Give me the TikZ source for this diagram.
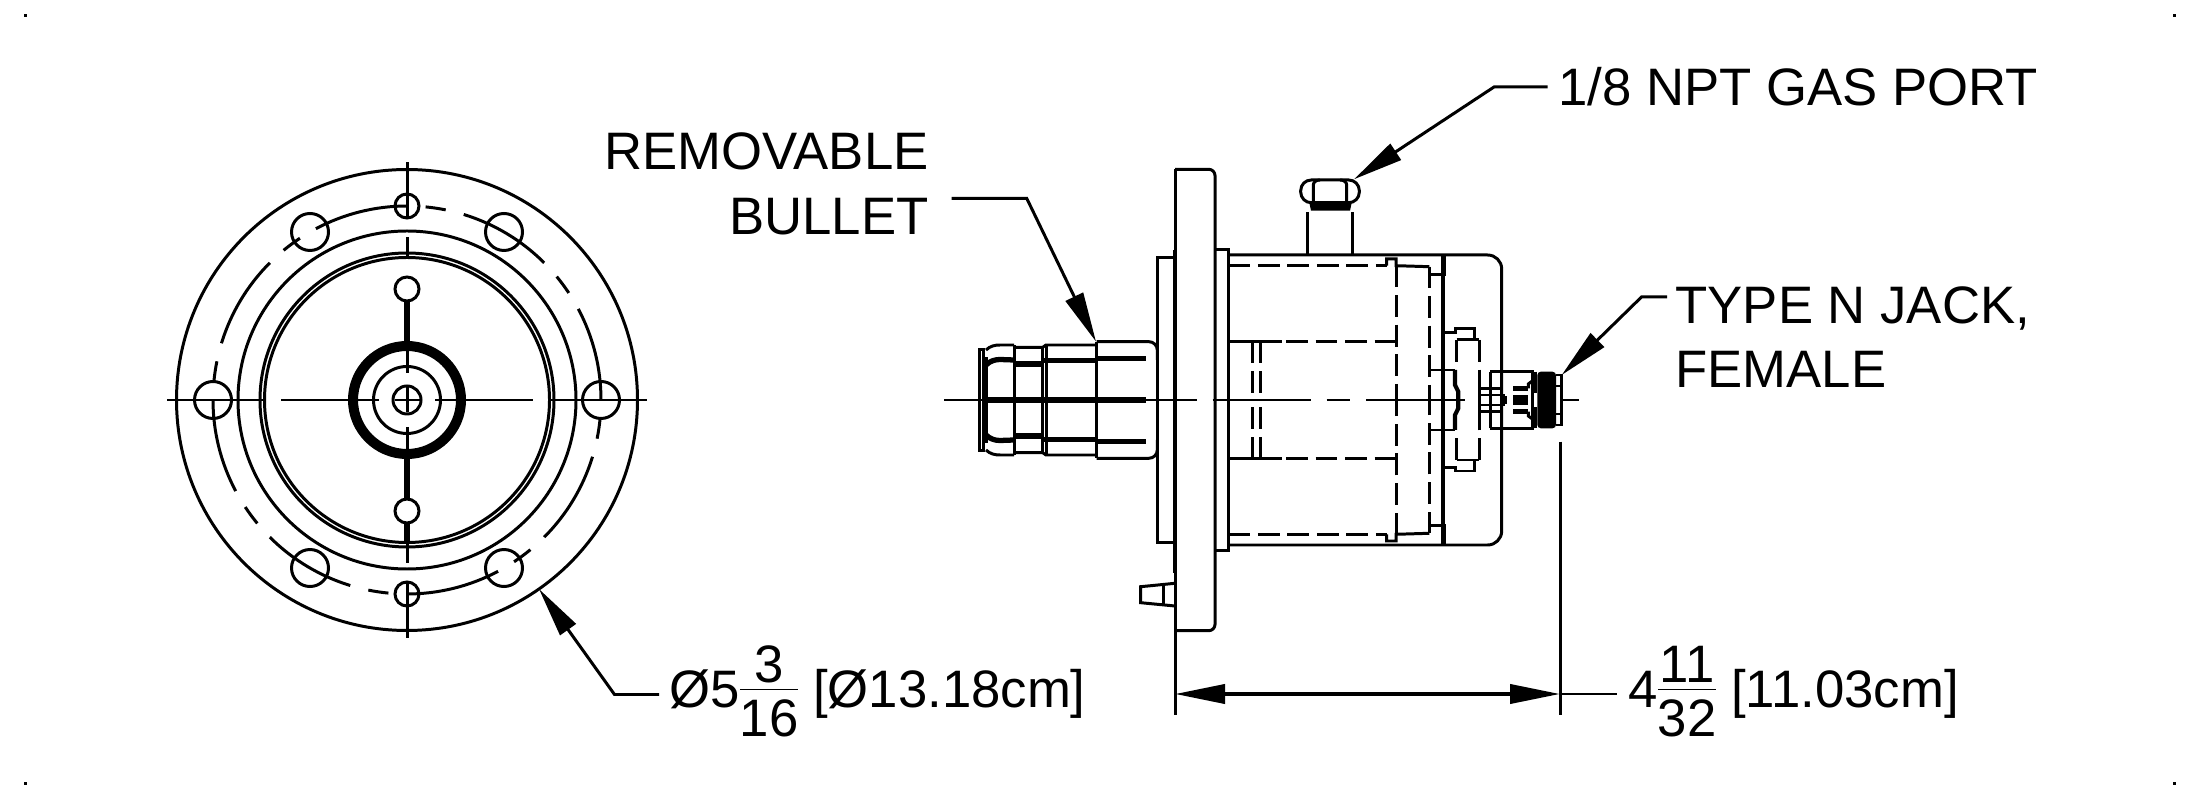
\documentclass[tikz,border=0pt]{standalone}
\usepackage{fontspec}
\setmainfont{Liberation Sans}
\usetikzlibrary{arrows.meta}
\tikzset{
  hid/.style={dash pattern=on 6.2pt off 2.2pt},
  heavy/.style={line width=1.5pt},
  lab/.style={font=\fontsize{15}{18.35}\selectfont,inner sep=0pt}
}
\newcommand{\dimfrac}[2]{\raisebox{1.6pt}{$\nulldelimiterspace=0pt{\hbox{\rule[-1.4pt]{0pt}{1pt}#1}\over\hbox{\rule{0pt}{12.6pt}#2}}$}}

\begin{document}
\begin{tikzpicture}[>={Triangle[length=5mm,width=1.9mm]},line width=.85pt]
\useasboundingbox (0,-4) rectangle (22,4);

% specks in the corners
\foreach \x in {.25,21.74}
{
   \foreach \y in {3.84,-3.83}
   {
      \fill (\x-.015,\y-.015) rectangle (\x+.015,\y+.015);
   }
}

% front view
\begin{scope}[shift={(4.07,0)}]
\foreach \r in {2.305,1.69,1.47,1.425,.335,.14}
{
   \draw (0,0) circle [radius=\r];
}
\draw [line width=2.85pt] (0,0) circle [radius=.54];
\foreach \a in {0,45,...,315}
{
   \draw (\a:1.94) arc [start angle=\a,delta angle=28,radius=1.94];
   \draw (\a+33.5:1.94) arc [start angle=\a+33.5,delta angle=6,radius=1.94];
}
\foreach \a in {0,60,120,180,240,300}
{
   \draw (\a:1.94) circle [radius=.185];
}
\foreach \a in {90,270}
{
   \draw (\a:1.94) circle [radius=.12];
   \draw (\a:1.11) circle [radius=.12];
   \draw (\a:.27)--(\a:.99);
   \draw (\a:1.43)--(\a:1.63);
   \draw (\a:1.83)--(\a:2.38);
   \draw (\a:-.125)--(\a:.125);
}
\foreach \a in {0,180}
{
   \draw (\a:.28)--(\a:1.26);
   \draw (\a:1.43)--(\a:2.4);
   \draw (\a:-.125)--(\a:.125);
}
\draw [heavy] (0,.57)--(0,.99);
\draw [heavy] (0,-.57)--(0,-.99);
\draw [heavy] (0,-1.23)--(0,-1.42);
\end{scope}

% side view, both halves
\foreach \s in {1,-1}
{
\begin{scope}[yscale=\s]
   % bullet
   \draw (9.793,0)--(9.793,.507)--(9.833,.507)--(9.833,0);
   \draw [heavy] (9.85,0)--(9.85,.43);
   \draw (9.86,.5) .. controls (9.9,.54) and (9.95,.55) .. (10,.55)--(10.14,.55);
   \draw [heavy] (9.86,.35) .. controls (9.9,.39) and (9.95,.405) .. (10,.405)--(10.14,.4);
   \draw (10.14,0)--(10.14,.55);
   \draw (10.14,.527)--(10.427,.527)--(10.46,.55)--(10.967,.55);
   \draw [heavy] (10.14,.36)--(10.427,.36);
   \draw (10.427,0)--(10.427,.527);
   \draw (10.46,0)--(10.46,.55);
   \draw [heavy] (10.427,.393)--(10.967,.393);
   \draw (10.967,0)--(10.967,.583);
   \draw [heavy] (10.967,.413)--(11.46,.413);
   \draw [rounded corners=2.4pt] (10.967,.583)--(11.573,.583)--(11.573,.4);
   % flange and plates
   \draw (11.75,1.423)--(11.573,1.423)--(11.573,0);
   \draw [rounded corners=1.8pt] (11.75,2.307)--(12.15,2.307)--(12.15,0);
   \draw (12.15,1.505)--(12.283,1.505)--(12.283,0);
   % body
   \draw [rounded corners=4pt] (12.283,1.45)--(15.017,1.45)--(15.017,0);
   \draw [hid] (12.283,1.343)--(13.867,1.343);
   \draw (13.867,1.343)--(13.867,1.41)--(13.96,1.41)--(13.96,1.343)--(14.293,1.333);
   \draw [hid] (13.96,1.343)--(13.96,0);
   \draw [hid] (14.293,1.333)--(14.293,0);
   \draw [line width=1.2pt] (14.433,1.45)--(14.433,0);
   \draw [heavy] (14.433,1.45)--(14.433,1.27);
   \draw (14.293,1.257)--(14.457,1.257);
   % inner tube
   \draw (12.283,.583)--(12.817,.583);
   \draw [hid] (12.86,.583)--(13.96,.583);
   \draw [hid] (12.527,.583)--(12.527,0);
   \draw [hid] (12.6,.583)--(12.6,0);
   % stepped plate
   \draw (14.433,.677)--(14.557,.677)--(14.557,.71)--(14.74,.71)--(14.74,.6);
   \draw (14.567,.6)--(14.79,.6);
   \draw [hid] (14.79,.6)--(14.79,.1);
   \draw [hid] (14.567,.6)--(14.567,.32);
   \draw (14.3,.3)--(14.55,.3);
   \draw [line width=1.2pt] (14.55,.3)--(14.55,.15)--(14.583,.083)--(14.583,0);
   % jack
   \draw (14.9,.283)--(15.323,.283)--(15.323,0);
   \draw (14.9,.283)--(14.9,0);
   \draw (14.79,.117)--(15.017,.117);
   \draw (14.79,.117)--(14.79,0);
   \draw (14.8,.05)--(15.05,.05);
   \draw [heavy] (15.133,.117)--(15.283,.117);
   \draw (15.283,.117)--(15.283,.16)--(15.323,.19);
   \draw [hid] (15.35,.283)--(15.35,0);
   \draw (15.56,.25)--(15.61,.25)--(15.61,0);
   % tube lines in the neck
   \draw (15.56,.14)--(15.61,.14);
\end{scope}
}
% things on the axis
\draw [line width=1.9pt] (9.85,0)--(11.46,0);
\draw (9.44,0)--(9.85,0);
\draw (11.46,0)--(11.967,0);
\draw (12.127,0)--(13.107,0);
\draw (13.267,0)--(13.5,0);
\draw (13.66,0)--(14.65,0);
\draw (15.61,0)--(15.79,0);
\fill [rounded corners=1pt] (15.373,-.283) rectangle (15.56,.283);
\fill (15.133,-.05) rectangle (15.283,.05);
\draw [line width=2pt] (15.02,0)--(15.07,0);
% nipple
\draw (11.75,-1.833)--(11.407,-1.867)--(11.407,-2.027)--(11.75,-2.06);
\draw (11.633,-1.85)--(11.633,-2.05);
% gas port
\draw (13.073,1.45)--(13.073,1.883);
\draw (13.52,1.45)--(13.52,1.883);
\fill (13.093,1.973)--(13.517,1.973)--(13.5,1.893)--(13.11,1.893)--cycle;
\draw [rounded corners=3pt] (13.007,1.973)--(13.007,2.2)--(13.593,2.2)--(13.593,1.973)--cycle;
\draw (13.133,1.973)--(13.133,2.15) to[out=90,in=180] (13.2,2.2);
\draw (13.467,1.973)--(13.467,2.15) to[out=90,in=0] (13.4,2.2);

% flange face and extension lines
\coordinate (extleft) at (11.75,-2.94);
\coordinate (extright) at (15.6,-2.94);
\draw (11.75,2.307)--(11.75,-3.15);
\draw [line width=1.4pt] (11.75,1.5)--(11.75,-1.73);
\draw (15.6,-.417)--(15.6,-3.15);

% labels
\node [lab,align=right,anchor=east] (bulletlabel) at (9.3,2.16) {REMOVABLE\\BULLET};
\node [lab,anchor=west] (gaslabel) at (15.57,3.13) {1/8 NPT GAS PORT};
\node [lab,align=left,anchor=west] (jacklabel) at (16.74,.63) {TYPE N JACK,\\FEMALE};
\node [lab,anchor=base west] (dialabel) at (6.68,-3.08) {Ø5\dimfrac{3}{16} [Ø13.18cm]};
\node [lab,anchor=base west] (lenlabel) at (16.27,-3.08) {4\dimfrac{11}{32} [11.03cm]};

% leaders
\coordinate (bulletstart) at (9.517,2.017);
\coordinate (bulletbend) at (10.267,2.017);
\coordinate (bullettip) at (10.96,.583);
\coordinate (gasbend) at (14.94,3.13);
\coordinate (gastip) at (13.54,2.207);
\coordinate (jackstart) at (16.67,1.03);
\coordinate (jackbend) at (16.415,1.03);
\coordinate (jacktip) at (15.617,.25);
\coordinate (diastart) at (6.59,-2.945);
\coordinate (diabend) at (6.145,-2.945);
\coordinate (diatip) at (5.39,-1.89);
\coordinate (lenstop) at (16.17,-2.94);
\draw [->] (bulletstart)--(bulletbend)--(bullettip);
\draw [->] ([xshift=-2.7pt]gaslabel.west)--(gasbend)--(gastip);
\draw [->] (jackstart)--(jackbend)--(jacktip);
\draw [->] (diastart)--(diabend)--(diatip);
\draw [<->,line width=1.1pt] (extleft)--(extright);
\draw (extright)--(lenstop);

\end{tikzpicture}
\end{document}
